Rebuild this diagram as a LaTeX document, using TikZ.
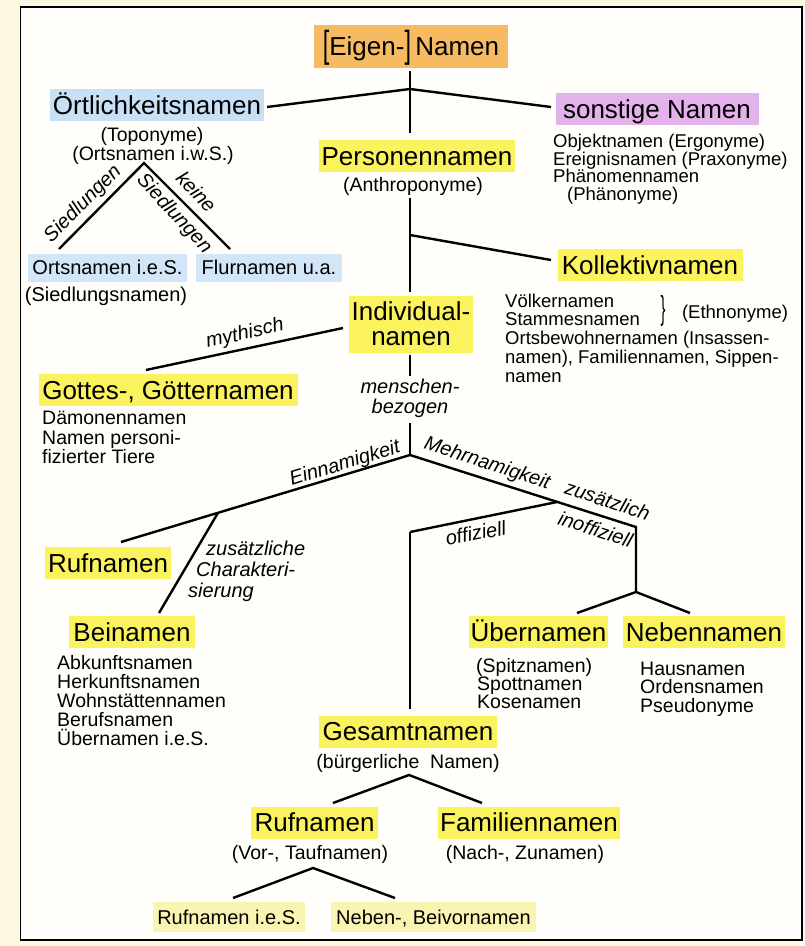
\documentclass[tikz,border=0pt]{standalone}
\usepackage{fontspec}
\setmainfont{Liberation Sans}
\usepackage{graphicx}
\newcommand\fbig{\fontsize{26}{25}\selectfont}
\newcommand\fsub{\fontsize{19.5}{19}\selectfont}
\newcommand\fsubr{\fontsize{18.5}{18}\selectfont}
\newcommand\fmid{\fontsize{20}{20}\selectfont}
\newcommand\flab{\fontsize{20}{20}\selectfont\itshape}
\definecolor{cream}{HTML}{FDF9E1}
\definecolor{paper}{HTML}{FFFEFA}
\definecolor{orangeC}{HTML}{F6BA62}
\definecolor{yellowC}{HTML}{FBF35E}
\definecolor{blueC}{HTML}{C8E0F6}
\definecolor{lblueC}{HTML}{D2E6F8}
\definecolor{purpleC}{HTML}{E4B2EA}
\definecolor{paleC}{HTML}{FAF4B2}
\begin{document}
\begin{tikzpicture}[x=1pt,y=-1pt,
  hb/.style={inner sep=0pt, minimum height=32pt, text height=18.6pt, text depth=0pt, font=\fbig},
  mb/.style={inner sep=0pt, text height=14.3pt, text depth=0pt, font=\fmid},
  sub/.style={inner sep=0pt, anchor=base west, font=\fsub},
  subr/.style={inner sep=0pt, anchor=base west, font=\fsubr},
  subc/.style={inner sep=0pt, anchor=base, font=\fsub},
  lab/.style={inner sep=0pt, text height=10.5pt, text depth=0pt, font=\flab},
  thinl/.style={line width=1.5pt, draw=black},
  thickl/.style={line width=2.4pt, draw=black, line join=miter}
]
\useasboundingbox (0,0) rectangle (804,946);
\fill[cream] (0,0) rectangle (804,946);
\filldraw[fill=paper, draw=black, line width=1.6pt] (20.5,7) rectangle (802,940);

% ---- boxes
\node[hb, fill=orangeC, minimum width=194pt, minimum height=43pt] (eigen) at (411,46.5)
  {\raisebox{-1.5pt}{\scalebox{0.9}[1.45]{[}}Eigen-\raisebox{-1.5pt}{\scalebox{0.9}[1.45]{]}}\,Namen};
\node[hb, fill=blueC, minimum width=214pt] (ort) at (157,105) {Örtlichkeitsnamen};
\node[hb, fill=purpleC, minimum width=203pt] (sonst) at (657,109) {sonstige Namen};
\node[hb, fill=yellowC, minimum width=196pt] (pers) at (417,156) {Personennamen};
\node[hb, fill=yellowC, minimum width=185pt] (koll) at (650,265) {Kollektivnamen};
\node[inner sep=0pt, font=\fbig, align=center, fill=yellowC, minimum width=124pt, minimum height=57pt] (indiv) at (411,324) {Individual-\\namen};
\node[hb, fill=yellowC, minimum width=259pt] (gott) at (168,390) {Gottes-, Götternamen};
\node[hb, fill=yellowC, minimum width=126pt] (ruf1) at (108,563) {Rufnamen};
\node[hb, fill=yellowC, minimum width=126pt] (bein) at (132,632) {Beinamen};
\node[hb, fill=yellowC, minimum width=139pt] (ueber) at (538.5,632) {Übernamen};
\node[hb, fill=yellowC, minimum width=162pt] (neben) at (704,632) {Nebennamen};
\node[hb, fill=yellowC, minimum width=178pt] (gesamt) at (408,731.5) {Gesamtnamen};
\node[hb, fill=yellowC, minimum width=127pt] (ruf2) at (314.5,822.5) {Rufnamen};
\node[hb, fill=yellowC, minimum width=182pt] (fam) at (529,822.5) {Familiennamen};
\node[mb, fill=lblueC, minimum width=159pt, minimum height=28pt] (ortsies) at (107.5,267.5) {Ortsnamen i.e.S.};
\node[mb, fill=lblueC, minimum width=146pt, minimum height=28pt] (flur) at (269,267.5) {Flurnamen u.a.};
\node[mb, fill=paleC, minimum width=152pt, minimum height=30pt] (rufies) at (229,917) {Rufnamen i.e.S.};
\node[mb, fill=paleC, minimum width=205pt, minimum height=30pt] (nebbei) at (433.5,917) {Neben-, Beivornamen};

% ---- sub texts
\node[subc] (topo) at (152,141.5) {(Toponyme)};
\node[subc] (ortws) at (153,160.5) {(Ortsnamen i.w.S.)};
\node[subc] (anthro) at (413,191) {(Anthroponyme)};
\node[subc, font=\fmid] (siedl) at (106,301) {(Siedlungsnamen)};
\node[subr] (s1) at (553,147) {Objektnamen (Ergonyme)};
\node[subr] (s2) at (553,165) {Ereignisnamen (Praxonyme)};
\node[subr] (s3) at (553,182.5) {Phänomennamen};
\node[subr] (s4) at (567,200) {(Phänonyme)};
\node[subr] (k1) at (505,307) {Völkernamen};
\node[subr] (k2) at (505,325.5) {Stammesnamen};
\node[inner sep=0pt, font=\fsubr] (brace) at (663,311) {\scalebox{0.8}[1.8]{\}}};
\node[inner sep=0pt, anchor=base, font=\fsubr] (ethno) at (735,318) {(Ethnonyme)};
\node[subr] (k3) at (505,344.5) {Ortsbewohnernamen (Insassen-};
\node[subr] (k4) at (505,363) {namen), Familiennamen, Sippen-};
\node[subr] (k5) at (505,382) {namen};
\node[sub] (g1t) at (42,424) {Dämonennamen};
\node[sub] (g2t) at (42,444) {Namen personi-};
\node[sub] (g3t) at (42,463) {fizierter Tiere};
\node[sub] (b1) at (57,669) {Abkunftsnamen};
\node[sub] (b2) at (57,688) {Herkunftsnamen};
\node[sub] (b3) at (57,707) {Wohnstättennamen};
\node[sub] (b4) at (57,726) {Berufsnamen};
\node[sub] (b5) at (57,745) {Übernamen i.e.S.};
\node[sub] (u1) at (476,672) {(Spitznamen)};
\node[sub] (u2) at (477,690) {Spottnamen};
\node[sub] (u3) at (477,708) {Kosenamen};
\node[sub] (n1) at (640,675) {Hausnamen};
\node[sub] (n2) at (640,693) {Ordensnamen};
\node[sub] (n3) at (640,712) {Pseudonyme};
\node[subc] (buerg) at (408,768) {(bürgerliche\ \ Namen)};
\node[subc] (vor) at (310,859) {(Vor-, Taufnamen)};
\node[subc] (nach) at (525,859) {(Nach-, Zunamen)};

% ---- connector points
\coordinate (t0) at (410,71);   \coordinate (t1) at (410,133);
\coordinate (j0) at (410,89);
\coordinate (ortE) at (267,107); \coordinate (sonW) at (551,107);
\coordinate (t2) at (410,198);  \coordinate (t3) at (410,292);
\coordinate (j1) at (410,235);  \coordinate (kolW) at (551,260);
\coordinate (triA) at (144,163); \coordinate (triL) at (59,249); \coordinate (triR) at (230,249);
\coordinate (mythE) at (343,328); \coordinate (mythW) at (146,370);
\coordinate (t4) at (410,355);  \coordinate (t5) at (410,376);
\coordinate (t6) at (410,423);  \coordinate (apex) at (410,455);
\coordinate (einE) at (121,542); \coordinate (einJ) at (218,512.8); \coordinate (beinN) at (159,613);
\coordinate (zc) at (636,527);  \coordinate (nb) at (636,592);
\coordinate (uebN) at (577,613); \coordinate (nebN) at (690,613);
\coordinate (mehrJ) at (557,502); \coordinate (offc) at (410,532); \coordinate (t7) at (410,709);
\coordinate (g0) at (409,775);  \coordinate (g1) at (333,803); \coordinate (g2) at (482,803);
\coordinate (r0) at (313,868);  \coordinate (r1) at (233,898); \coordinate (r2) at (395,898);

% ---- connectors
\draw[thinl] (t0) -- (t1);
\draw[thickl] (ortE) -- (j0) -- (sonW);
\draw[thinl] (t2) -- (t3);
\draw[thickl] (j1) -- (kolW);
\draw[thickl] (triL) -- (triA) -- (triR);
\draw[thickl] (mythE) -- (mythW);
\draw[thinl] (t4) -- (t5);
\draw[thinl] (t6) -- (apex);
\draw[thickl] (einE) -- (apex) -- (zc) -- (nb);
\draw[thickl] (einJ) -- (beinN);
\draw[thickl] (uebN) -- (nb) -- (nebN);
\draw[thickl] (mehrJ) -- (offc);
\draw[thinl] (offc) -- (t7);
\draw[thickl] (g1) -- (g0) -- (g2);
\draw[thickl] (r1) -- (r0) -- (r2);

% ---- labels
\node[lab, rotate=45] (lsied) at (83,204) {Siedlungen};
\node[lab, rotate=-47] (lkeine) at (195,193) {keine};
\node[lab, rotate=-47] (lsied2) at (174,214) {Siedlungen};
\node[lab, rotate=13] (lmyth) at (245,334) {mythisch};
\node[lab] (lmen) at (410,388) {menschen-};
\node[lab] (lbez) at (410,408) {bezogen};
\node[lab, rotate=17] (lein) at (345,464) {Einnamigkeit};
\node[lab, rotate=-18] (lmehr) at (487,464) {Mehrnamigkeit};
\node[lab, rotate=-18] (lzus) at (607,502) {zusätzlich};
\node[lab, rotate=-18] (linoff) at (595,531) {inoffiziell};
\node[lab, rotate=11] (loff) at (476,535) {offiziell};
\node[lab, anchor=base west] (lz1) at (206,555) {zusätzliche};
\node[lab, anchor=base west] (lz2) at (196,576) {Charakteri-};
\node[lab, anchor=base west] (lz3) at (188,597) {sierung};
\end{tikzpicture}
\end{document}
